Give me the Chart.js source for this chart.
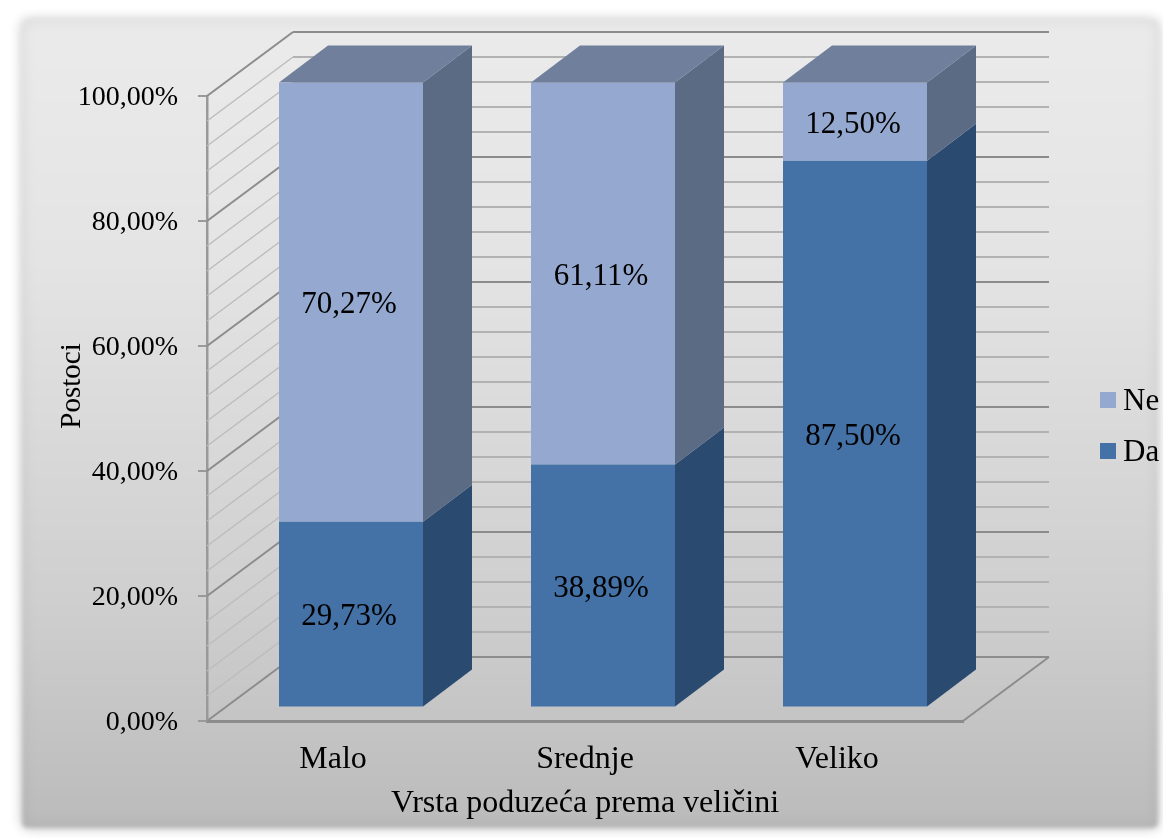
<!DOCTYPE html>
<html>
<head>
<meta charset="utf-8">
<title>Vrsta poduzeća prema veličini</title>
<script src="https://cdn.jsdelivr.net/npm/chart.js@4"></script>
<style>
    html, body { margin: 0; padding: 0; background: #fff; }
    #wrap { position: relative; width: 1163px; height: 838px; overflow: hidden; }
    #panel {
        position: absolute; left: 22px; top: 20px; width: 1136px; height: 808px;
        border-radius: 5px;
        background: linear-gradient(#ebebeb, #e4e4e4 30%, #cfcfcf 72%, #bbbbbb);
        box-shadow: 0 0 12px rgba(0, 0, 0, .26), inset 0 0 16px rgba(0, 0, 0, .07);
        filter: blur(2px);
    }
    canvas { position: absolute; left: 0; top: 0; }
</style>
</head>
<body>
<div id="wrap">
    <div id="panel"></div>
    <canvas id="chart" width="1163" height="838"></canvas>
</div>
<script>
const categories = ['Malo', 'Srednje', 'Veliko'];
const valuesDa = [29.73, 38.89, 87.50];
const valuesNe = [70.27, 61.11, 12.50];
const wallLines = [0, 4, 8, 12, 16, 20, 24, 28, 32, 36, 40, 44, 48, 52, 56, 60, 64, 68, 72, 76, 80, 84, 88, 92, 96, 100];
const xTitle = 'Vrsta poduzeća prema veličini';
const yTitle = 'Postoci';

const serif = '"Liberation Serif", "Times New Roman", serif';

// pomaci za 3D izgled
const wall = { dx: 86, dy: -64 };
const barShift = { dx: 18, dy: -13.5 };
const barDepth = { dx: 49, dy: -37 };

const sideColors = ['#2b4a70', '#5c6b84'];
const topColor = '#6f7f9c';

function pct(v) {
    return v.toFixed(2).replace('.', ',') + '%';
}

function poly(ctx, pts, color) {
    ctx.fillStyle = color;
    ctx.beginPath();
    pts.forEach((p, i) => i ? ctx.lineTo(p[0], p[1]) : ctx.moveTo(p[0], p[1]));
    ctx.closePath();
    ctx.fill();
}

const walls3d = {
    id: 'walls3d',
    beforeDatasetsDraw(chart) {
        const { ctx, chartArea, scales } = chart;
        const { left, right, bottom } = chartArea;
        ctx.save();
        wallLines.forEach(v => {
            const y = scales.y.getPixelForValue(v);
            const major = v % 20 === 0;
            // lijevi zid je svjetliji od straznjeg
            ctx.strokeStyle = major ? '#8c8c8c' : '#bcbcbc';
            ctx.lineWidth = major ? 2 : 1.5;
            ctx.beginPath();
            ctx.moveTo(left, y);
            ctx.lineTo(left + wall.dx, y + wall.dy);
            ctx.stroke();
            ctx.strokeStyle = major ? '#8c8c8c' : '#b2b2b2';
            ctx.lineWidth = 2;
            ctx.beginPath();
            ctx.moveTo(left + wall.dx, y + wall.dy);
            ctx.lineTo(right + wall.dx, y + wall.dy);
            ctx.stroke();
        });
        // pod
        ctx.strokeStyle = '#8c8c8c';
        ctx.lineWidth = 2;
        ctx.beginPath();
        ctx.moveTo(right, bottom);
        ctx.lineTo(right + wall.dx, bottom + wall.dy);
        ctx.stroke();
        ctx.restore();

        // bocne i gornje strane stupaca, pa pomak za prednje strane
        ctx.save();
        ctx.translate(barShift.dx, barShift.dy);
        chart.data.datasets.forEach((ds, i) => {
            chart.getDatasetMeta(i).data.forEach(bar => {
                const r = bar.x + bar.width / 2;
                const l = bar.x - bar.width / 2;
                poly(ctx, [[r, bar.y], [r + barDepth.dx, bar.y + barDepth.dy],
                    [r + barDepth.dx, bar.base + barDepth.dy], [r, bar.base]], sideColors[i]);
                if (i === chart.data.datasets.length - 1) {
                    poly(ctx, [[l, bar.y], [l + barDepth.dx, bar.y + barDepth.dy],
                        [r + barDepth.dx, bar.y + barDepth.dy], [r, bar.y]], topColor);
                }
            });
        });
    },
    afterDatasetsDraw(chart) {
        const { ctx } = chart;
        // oznake vrijednosti na sredini svakog segmenta
        ctx.font = '31px ' + serif;
        ctx.fillStyle = '#000';
        ctx.textAlign = 'center';
        ctx.textBaseline = 'middle';
        chart.data.datasets.forEach((ds, i) => {
            chart.getDatasetMeta(i).data.forEach((bar, j) => {
                ctx.fillText(pct(ds.data[j]), bar.x - 2, (bar.y + bar.base) / 2 + 3);
            });
        });
        ctx.restore();
    },
    afterDraw(chart) {
        const { ctx } = chart;
        ctx.save();
        ctx.fillStyle = '#000';
        ctx.textBaseline = 'middle';

        // naslov y osi nije na sredini osi pa se crta ovdje
        ctx.save();
        ctx.font = '29px ' + serif;
        ctx.textAlign = 'center';
        ctx.translate(72, 386);
        ctx.rotate(-Math.PI / 2);
        ctx.fillText(yTitle, 0, 0);
        ctx.restore();

        // legenda
        ctx.textAlign = 'left';
        ctx.font = '31px ' + serif;
        const items = chart.data.datasets.slice().reverse();
        items.forEach((ds, i) => {
            const y = 400 + i * 51;
            ctx.fillStyle = ds.backgroundColor;
            ctx.fillRect(1100, y - 8, 16, 16);
            ctx.fillStyle = '#000';
            ctx.fillText(ds.label, 1123, y + 2);
        });
        ctx.restore();
    }
};

new Chart(document.getElementById('chart'), {
    type: 'bar',
    data: {
        labels: categories,
        datasets: [
            { label: 'Da', data: valuesDa, backgroundColor: '#4472a7' },
            { label: 'Ne', data: valuesNe, backgroundColor: '#95a9d0' }
        ]
    },
    plugins: [walls3d],
    options: {
        responsive: false,
        animation: false,
        layout: { padding: { top: 96, right: 200, bottom: 0, left: 0 } },
        datasets: { bar: { categoryPercentage: 1, barPercentage: 0.5714 } },
        plugins: { legend: { display: false }, tooltip: { enabled: false } },
        scales: {
            x: {
                stacked: true,
                afterFit: s => { s.height = 117; },
                grid: { display: false },
                border: { color: '#8c8c8c', width: 3 },
                title: {
                    display: true,
                    text: xTitle,
                    color: '#000',
                    padding: { top: 0, bottom: 15 },
                    font: { family: serif, size: 32 }
                },
                ticks: { color: '#000', padding: 11, maxRotation: 0, font: { family: serif, size: 32 } }
            },
            y: {
                stacked: true,
                min: 0,
                max: 100,
                afterFit: s => { s.width = 207; },
                grid: { drawOnChartArea: false, tickLength: 9, color: '#999999', lineWidth: 2 },
                border: { color: '#999999', width: 2.5 },
                ticks: {
                    stepSize: 20,
                    color: '#000',
                    padding: 20,
                    labelOffset: 2,
                    font: { family: serif, size: 28 },
                    callback: v => pct(v)
                }
            }
        }
    }
});
</script>
</body>
</html>
